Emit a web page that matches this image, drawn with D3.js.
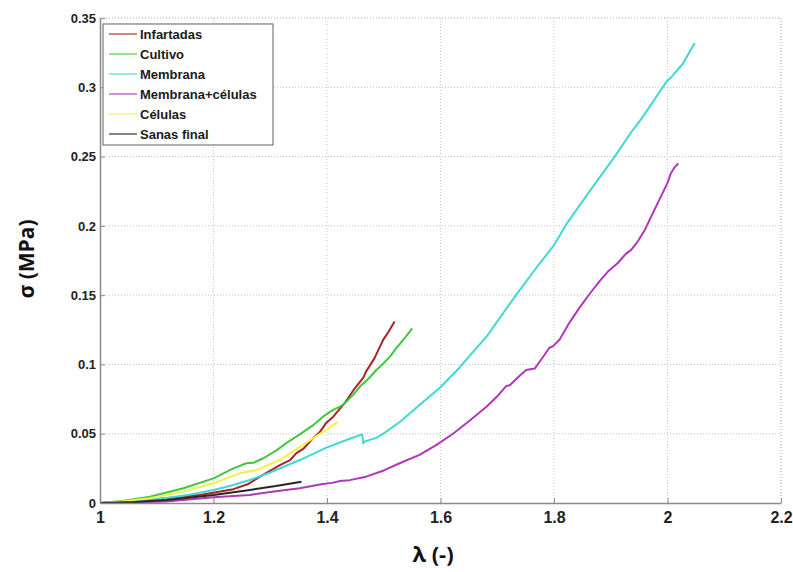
<!DOCTYPE html>
<html>
<head>
<meta charset="utf-8">
<script src="https://cdn.jsdelivr.net/npm/d3@7"></script>
<style>
  html, body { margin: 0; padding: 0; background: #fff; }
  svg { display: block; }
</style>
</head>
<body>
<svg id="chart" width="793" height="572"></svg>
<script>
// Stress–stretch curves (λ, σ in MPa) for each tissue group
const infartadas = [[1,0],[1.06,0.0012],[1.117,0.0034],[1.176,0.0058],[1.235,0.010],[1.26,0.0135],[1.282,0.019],[1.317,0.0274],[1.335,0.031],[1.346,0.036],[1.358,0.039],[1.376,0.047],[1.387,0.051],[1.399,0.058],[1.411,0.0623],[1.431,0.072],[1.449,0.0828],[1.464,0.0905],[1.469,0.095],[1.483,0.104],[1.499,0.1177],[1.509,0.124],[1.519,0.131]];
const cultivo = [[1,0],[1.04,0.0015],[1.088,0.0045],[1.147,0.0106],[1.2,0.0178],[1.235,0.025],[1.258,0.0287],[1.27,0.029],[1.288,0.0323],[1.311,0.038],[1.331,0.044],[1.352,0.0495],[1.375,0.056],[1.393,0.0623],[1.41,0.067],[1.423,0.0695],[1.434,0.073],[1.446,0.078],[1.458,0.084],[1.474,0.090],[1.487,0.096],[1.5,0.101],[1.511,0.1056],[1.522,0.1117],[1.535,0.118],[1.550,0.126]];
const membrana = [[1,0],[1.06,0.0012],[1.117,0.0036],[1.16,0.0062],[1.2,0.0094],[1.23,0.0125],[1.264,0.0166],[1.3,0.022],[1.352,0.031],[1.399,0.040],[1.44,0.0464],[1.462,0.0495],[1.464,0.043],[1.467,0.0445],[1.487,0.047],[1.499,0.050],[1.53,0.059],[1.563,0.0707],[1.6,0.0835],[1.634,0.098],[1.681,0.120],[1.733,0.15],[1.775,0.173],[1.8,0.186],[1.823,0.202],[1.868,0.228],[1.907,0.25],[1.935,0.267],[1.957,0.279],[1.98,0.293],[1.998,0.304],[2.006,0.307],[2.027,0.317],[2.048,0.332]];
const membranaCelulas = [[1,0],[1.06,0.0005],[1.117,0.001],[1.2,0.0041],[1.264,0.0058],[1.31,0.0085],[1.352,0.0106],[1.39,0.0135],[1.411,0.0147],[1.423,0.0159],[1.44,0.0165],[1.469,0.019],[1.5,0.0235],[1.528,0.0287],[1.563,0.0347],[1.593,0.0419],[1.622,0.050],[1.65,0.059],[1.681,0.0695],[1.70,0.077],[1.716,0.0845],[1.722,0.085],[1.74,0.092],[1.751,0.096],[1.766,0.097],[1.78,0.105],[1.792,0.112],[1.798,0.113],[1.81,0.118],[1.827,0.130],[1.845,0.141],[1.863,0.151],[1.88,0.160],[1.895,0.167],[1.912,0.173],[1.927,0.180],[1.936,0.1827],[1.948,0.189],[1.960,0.197],[1.974,0.209],[1.987,0.220],[2.0,0.231],[2.006,0.238],[2.012,0.242],[2.019,0.245]];
const celulas = [[1,0],[1.04,0.001],[1.088,0.0034],[1.147,0.0082],[1.2,0.0142],[1.246,0.0214],[1.276,0.0238],[1.317,0.031],[1.352,0.0403],[1.376,0.047],[1.399,0.0527],[1.419,0.0587]];
const sanasFinal = [[1,0],[1.06,0.0008],[1.117,0.0022],[1.16,0.004],[1.2,0.0058],[1.264,0.0094],[1.31,0.0122],[1.355,0.0154]];

const seriesNames = ["Infartadas","Cultivo","Membrana","Membrana+células","Células","Sanas final"];
const seriesData = [infartadas, cultivo, membrana, membranaCelulas, celulas, sanasFinal];
const seriesColors = ["#a82424","#3fc83f","#3fd8d8","#b236bc","#f2f04a","#262626"];

const xTicks = [1,1.2,1.4,1.6,1.8,2,2.2];
const yTicks = [0,0.05,0.1,0.15,0.2,0.25,0.3,0.35];
const xLabel = "λ (-)";
const yLabel = "σ (MPa)";

const svg = d3.select("#chart");
const plotLeft = 100, plotRight = 781, plotTop = 18, plotBottom = 503;

const x = d3.scaleLinear().domain([1, 2.2]).range([plotLeft, plotRight]);
const y = d3.scaleLinear().domain([0, 0.35]).range([plotBottom, plotTop]);

// dotted grid
const grid = svg.append("g");
grid.selectAll("line.gx").data(xTicks.slice(1)).join("line")
  .attr("x1", d => x(d)).attr("x2", d => x(d))
  .attr("y1", plotTop).attr("y2", plotBottom)
  .attr("stroke", "#c4c4c4").attr("stroke-width", 1).attr("stroke-dasharray", "1,2");
grid.selectAll("line.gy").data(yTicks.slice(1)).join("line")
  .attr("x1", plotLeft).attr("x2", plotRight)
  .attr("y1", d => y(d)).attr("y2", d => y(d))
  .attr("stroke", "#c4c4c4").attr("stroke-width", 1).attr("stroke-dasharray", "1,2");

// curves
const line = d3.line().x(d => x(d[0])).y(d => y(d[1]));
svg.append("g").selectAll("path").data(seriesData).join("path")
  .attr("d", line)
  .attr("fill", "none")
  .attr("stroke", (d, i) => seriesColors[i])
  .attr("stroke-width", 2)
  .attr("stroke-linejoin", "round");

// axes
const xAxis = d3.axisBottom(x).tickValues(xTicks).tickFormat(d3.format("~g")).tickSizeInner(-5).tickSizeOuter(0).tickPadding(9);
const yAxis = d3.axisLeft(y).tickValues(yTicks).tickFormat(d3.format("~g")).tickSizeInner(-5).tickSizeOuter(0).tickPadding(4);

const gx = svg.append("g").attr("transform", `translate(0,${plotBottom})`).call(xAxis);
gx.select(".domain").attr("stroke", "#8a8a8a").attr("stroke-width", 1.5);
gx.selectAll(".tick line").attr("stroke", "#8a8a8a");
gx.selectAll(".tick text")
  .attr("font-family", "'Liberation Sans Narrow', 'Liberation Sans', Arial, sans-serif")
  .attr("font-weight", "bold").attr("font-size", 16).attr("fill", "#222");

const gy = svg.append("g").attr("transform", `translate(${plotLeft},0)`).call(yAxis);
gy.select(".domain").attr("stroke", "#8a8a8a").attr("stroke-width", 1.5);
gy.selectAll(".tick line").attr("stroke", "#8a8a8a");
gy.selectAll(".tick text")
  .attr("font-family", "'Liberation Sans', Arial, sans-serif")
  .attr("font-weight", "bold").attr("font-size", 13).attr("fill", "#222");

// light top/right frame
svg.append("line").attr("x1", plotLeft).attr("x2", plotRight).attr("y1", plotTop).attr("y2", plotTop)
  .attr("stroke", "#c4c4c4").attr("stroke-dasharray", "1,2");
svg.append("line").attr("x1", plotRight).attr("x2", plotRight).attr("y1", plotTop).attr("y2", plotBottom)
  .attr("stroke", "#c4c4c4").attr("stroke-dasharray", "1,2");

// axis titles
svg.append("text")
  .attr("x", 433).attr("y", 562)
  .attr("text-anchor", "middle")
  .attr("font-family", "'Open Sans', 'Liberation Sans', sans-serif")
  .attr("font-weight", "bold").attr("font-size", 22).attr("fill", "#111")
  .text(xLabel);
svg.append("text")
  .attr("transform", "translate(34,259) rotate(-90)")
  .attr("text-anchor", "middle")
  .attr("font-family", "'Open Sans', 'Liberation Sans', sans-serif")
  .attr("font-weight", "bold").attr("font-size", 21).attr("fill", "#111")
  .text(yLabel);

// legend
const legend = svg.append("g");
legend.append("rect")
  .attr("x", 103).attr("y", 24).attr("width", 170).attr("height", 121)
  .attr("fill", "#fff").attr("stroke", "#7a7a7a").attr("stroke-width", 1.2);
const rows = legend.selectAll("g.row").data(seriesNames).join("g")
  .attr("transform", (d, i) => `translate(0,${34 + i * 20})`);
rows.append("line")
  .attr("x1", 109).attr("x2", 137).attr("y1", 0).attr("y2", 0)
  .attr("stroke", (d, i) => seriesColors[i]).attr("stroke-width", 1.6).attr("stroke-opacity", 0.7);
rows.append("text")
  .attr("x", 140).attr("y", 0).attr("dy", "0.35em")
  .attr("font-family", "'Liberation Sans', Arial, sans-serif")
  .attr("font-weight", "bold").attr("font-size", 13).attr("fill", "#1a1a1a")
  .text(d => d);
</script>
</body>
</html>
